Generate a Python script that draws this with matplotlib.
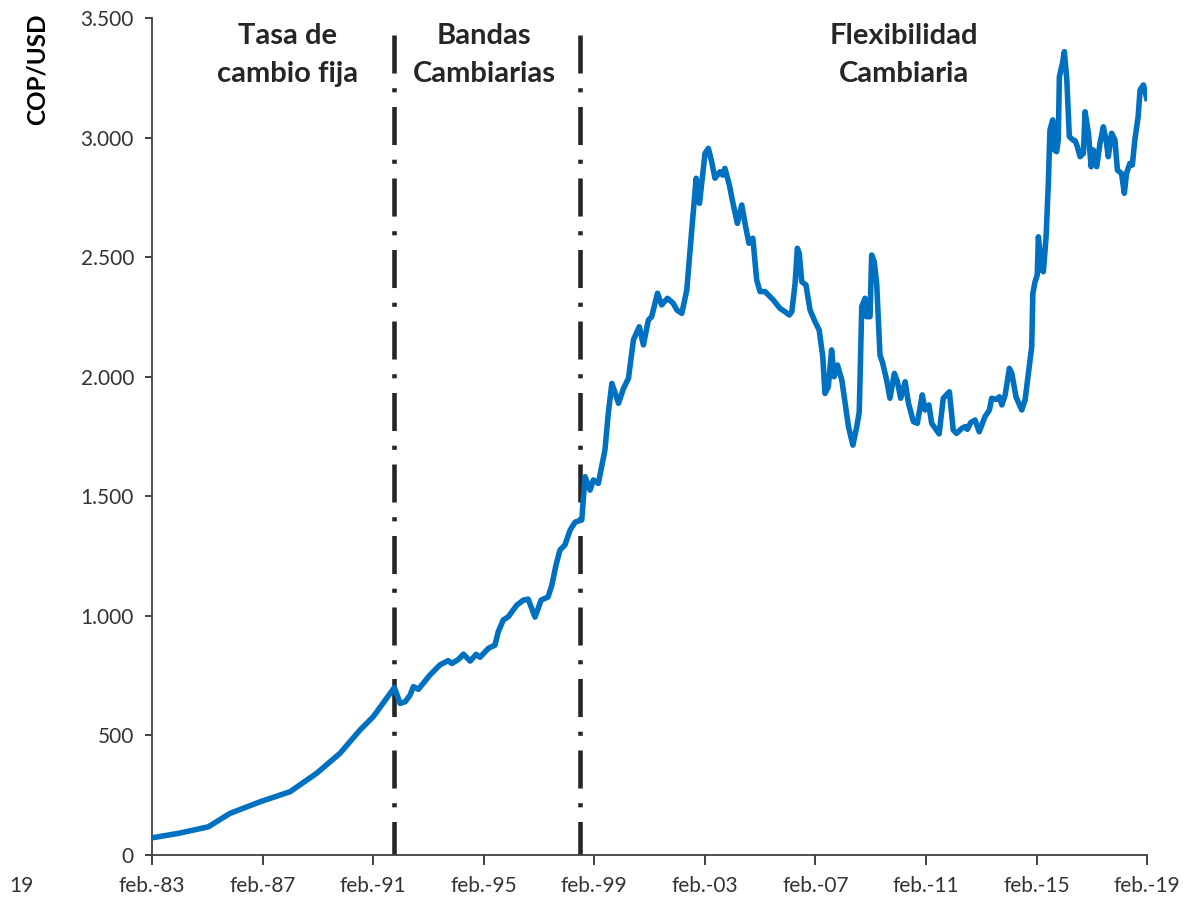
import matplotlib
matplotlib.use('Agg')
import matplotlib.pyplot as plt

# Tasa de cambio COP/USD (fecha en años decimales, valor en pesos por dólar)
anio = [
    1983.08, 1984.10, 1985.12, 1985.90, 1987.00, 1988.08, 1989.04, 1989.88, 1990.61, 1991.09, 1991.85,
    1992.06, 1992.24, 1992.42, 1992.54, 1992.72, 1993.14, 1993.50, 1993.80, 1993.93, 1994.17,
    1994.35, 1994.59, 1994.81, 1994.95, 1995.25, 1995.49, 1995.61, 1995.79, 1995.97, 1996.28,
    1996.52, 1996.69, 1996.94, 1997.16, 1997.41, 1997.55, 1997.70, 1997.84, 1998.02, 1998.21,
    1998.39, 1998.63, 1998.75, 1998.93, 1999.05, 1999.23, 1999.47, 1999.59, 1999.72, 1999.96,
    2000.14, 2000.32, 2000.50, 2000.71, 2000.86, 2001.04, 2001.16, 2001.37, 2001.52, 2001.73,
    2001.94, 2002.07, 2002.25, 2002.43, 2002.61, 2002.77, 2002.89, 2003.01, 2003.09, 2003.21,
    2003.33, 2003.45, 2003.63, 2003.73, 2003.81, 2003.97, 2004.09, 2004.26, 2004.42, 2004.56,
    2004.68, 2004.82, 2004.96, 2005.08, 2005.26, 2005.56, 2005.80, 2005.98, 2006.14, 2006.23,
    2006.35, 2006.43, 2006.50, 2006.59, 2006.74, 2006.89, 2007.07, 2007.22, 2007.35, 2007.43,
    2007.55, 2007.67, 2007.76, 2007.88, 2008.04, 2008.16, 2008.28, 2008.44, 2008.58, 2008.67,
    2008.76, 2008.88, 2008.94, 2009.06, 2009.12, 2009.21, 2009.30, 2009.42, 2009.52, 2009.66,
    2009.78, 2009.94, 2010.05, 2010.17, 2010.33, 2010.45, 2010.63, 2010.77, 2010.95, 2011.05,
    2011.19, 2011.29, 2011.56, 2011.71, 2011.93, 2012.07, 2012.19, 2012.38, 2012.50, 2012.58,
    2012.70, 2012.86, 2013.01, 2013.22, 2013.38, 2013.46, 2013.62, 2013.74, 2013.83, 2013.95,
    2014.10, 2014.19, 2014.34, 2014.55, 2014.67, 2014.91, 2014.95, 2015.03, 2015.11, 2015.15,
    2015.27, 2015.33, 2015.43, 2015.51, 2015.57, 2015.67, 2015.73, 2015.81, 2015.87, 2015.91,
    2016.02, 2016.09, 2016.18, 2016.27, 2016.40, 2016.48, 2016.56, 2016.66, 2016.78, 2016.84,
    2016.96, 2017.06, 2017.14, 2017.26, 2017.38, 2017.50, 2017.60, 2017.68, 2017.80, 2017.92,
    2018.01, 2018.16, 2018.26, 2018.34, 2018.46, 2018.55, 2018.64, 2018.76, 2018.83, 2018.95,
    2019.07,
]
cop_usd = [
    72, 92, 118, 174, 223, 265, 342, 425, 523, 579, 700,
    634, 641, 669, 704, 693, 753, 795, 813, 801, 818,
    840, 811, 839, 827, 864, 878, 934, 983, 996, 1045,
    1066, 1070, 995, 1066, 1079, 1129, 1213, 1275, 1296, 1359,
    1392, 1401, 1582, 1526, 1568, 1554, 1694, 1847, 1972, 1889,
    1951, 1993, 2154, 2209, 2133, 2237, 2251, 2349, 2300, 2328,
    2307, 2279, 2265, 2362, 2614, 2830, 2725, 2850, 2934, 2955,
    2899, 2830, 2857, 2843, 2871, 2802, 2732, 2641, 2718, 2627,
    2558, 2579, 2404, 2356, 2356, 2321, 2286, 2272, 2258, 2272,
    2391, 2537, 2516, 2397, 2384, 2279, 2230, 2195, 2084, 1930,
    1958, 2112, 2000, 2049, 1986, 1889, 1791, 1714, 1791, 1853,
    2293, 2328, 2251, 2251, 2509, 2481, 2391, 2091, 2056, 1986,
    1910, 2014, 1979, 1910, 1979, 1889, 1812, 1805, 1924, 1861,
    1882, 1805, 1761, 1910, 1937, 1777, 1763, 1784, 1791, 1780,
    1808, 1819, 1770, 1833, 1861, 1910, 1905, 1916, 1882, 1924,
    2035, 2014, 1916, 1861, 1903, 2126, 2349, 2397, 2425, 2585,
    2446, 2439, 2585, 2808, 3032, 3074, 2948, 2941, 2990, 3254,
    3310, 3359, 3241, 3004, 2990, 2987, 2962, 2920, 2934, 3108,
    3018, 2878, 2948, 2878, 2976, 3045, 2990, 2920, 3018, 2990,
    2864, 2850, 2767, 2850, 2892, 2885, 2990, 3087, 3199, 3220,
    3164,
]

# Cambios de régimen cambiario
cortes = [1991.84, 1998.57]
regimenes = ['Tasa de\ncambio fija', 'Bandas\nCambiarias', 'Flexibilidad\nCambiaria']
pos_regimenes = [1988.0, 1995.1, 2010.3]

ticks_x = [1983 + 1 / 12 + 4 * i for i in range(10)]
etiquetas_x = ['feb.-%02d' % (int(t) % 100) for t in ticks_x]
ticks_y = [0, 500, 1000, 1500, 2000, 2500, 3000, 3500]
etiquetas_y = ['0', '500', '1.000', '1.500', '2.000', '2.500', '3.000', '3.500']

plt.rcParams['font.family'] = ['Lato', 'DejaVu Sans']
gris = '#333333'

fig = plt.figure(figsize=(11.85, 8.99), dpi=100)
ax = fig.add_axes([0.1283, 0.0489, 0.8397, 0.9311])

ax.plot(anio, cop_usd, color='#0070C0', lw=4.0, solid_joinstyle='round', zorder=3)

for c in cortes:
    ax.plot([c, c], [3430, 0], color='#262626', lw=3.3,
            dashes=(8.3, 3.2, 0.9, 3.2), zorder=2)

for txt, xp in zip(regimenes, pos_regimenes):
    ax.text(xp, 3480, txt, ha='center', va='top', fontsize=21, fontweight='bold',
            color='#262626', linespacing=1.6)

ax.set_xlim(ticks_x[0], ticks_x[-1])
ax.set_ylim(0, 3500)
ax.set_xticks(ticks_x)
ax.set_xticklabels(etiquetas_x)
ax.set_yticks(ticks_y)
ax.set_yticklabels(etiquetas_y)

for s in ['top', 'right']:
    ax.spines[s].set_visible(False)
for s in ['left', 'bottom']:
    ax.spines[s].set_color('#404040')
    ax.spines[s].set_linewidth(1.3)
ax.tick_params(axis='both', labelsize=15, colors=gris, width=1.3)
ax.tick_params(axis='y', length=5, pad=8)
ax.tick_params(axis='x', length=7, pad=8)

fig.text(0.031, 0.985, 'COP/USD', rotation=90, ha='center', va='top',
         fontsize=17.5, fontweight='bold', color='black')
fig.text(0.008, 0.008, '19', fontsize=15, color=gris)

fig.savefig('out.png', dpi=100)
plt.close(fig)
